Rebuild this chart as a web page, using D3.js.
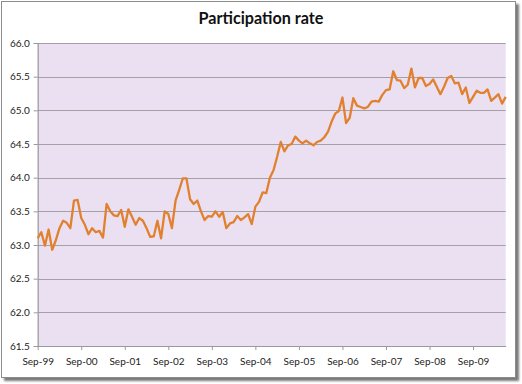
<!DOCTYPE html>
<html><head><meta charset="utf-8">
<script src="https://cdn.jsdelivr.net/npm/d3@7"></script>
<style>body{margin:0;background:#fff}svg{display:block}</style>
</head><body>
<svg id="c" width="522" height="384"></svg>
<script>
const title = "Participation rate";
const startMonth = new Date(1999, 8, 1); // Sep-99
const values = [
 63.10,63.19,62.99,63.23,62.93,63.07,63.25,63.36,63.33,63.25,63.66,63.67,
 63.40,63.30,63.16,63.25,63.19,63.21,63.11,63.61,63.50,63.44,63.43,63.52,
 63.27,63.53,63.42,63.30,63.40,63.36,63.25,63.12,63.13,63.36,63.10,63.50,
 63.46,63.25,63.66,63.82,63.99,63.99,63.68,63.61,63.66,63.50,63.37,63.43,
 63.42,63.50,63.42,63.49,63.25,63.32,63.34,63.43,63.37,63.41,63.46,63.31,
 63.57,63.64,63.78,63.77,64.00,64.11,64.31,64.53,64.39,64.48,64.50,64.61,
 64.55,64.51,64.55,64.51,64.48,64.53,64.55,64.60,64.68,64.83,64.95,64.99,
 65.19,64.81,64.89,65.18,65.07,65.05,65.03,65.05,65.13,65.14,65.13,65.23,
 65.30,65.31,65.58,65.45,65.44,65.33,65.38,65.62,65.34,65.48,65.48,65.36,
 65.39,65.46,65.35,65.24,65.35,65.48,65.51,65.40,65.41,65.24,65.34,65.11,
 65.20,65.29,65.26,65.26,65.31,65.14,65.19,65.24,65.10,65.20
];
const fmt = d3.timeFormat("%b-%y");
const categories = values.map((v, i) => fmt(d3.timeMonth.offset(startMonth, i)));
const xTickLabels = ["Sep-99","Sep-00","Sep-01","Sep-02","Sep-03","Sep-04","Sep-05","Sep-06","Sep-07","Sep-08","Sep-09"];
const yTicks = [61.5,62.0,62.5,63.0,63.5,64.0,64.5,65.0,65.5,66.0];

const W = 522, H = 384;
const plot = {left: 37.7, right: 505.7, top: 43, bottom: 346};
const svg = d3.select("#c");

// frame with shadow
const defs = svg.append("defs");
const blur = defs.append("filter").attr("id","sh").attr("x","-5%").attr("y","-5%").attr("width","115%").attr("height","115%");
blur.append("feGaussianBlur").attr("stdDeviation", 1.2);
svg.append("rect").attr("x", 4).attr("y", 4).attr("width", 515).attr("height", 377)
  .attr("fill", "#7a7a7a").attr("filter", "url(#sh)");
svg.append("rect").attr("x", 1.5).attr("y", 1.5).attr("width", 514).attr("height", 376)
  .attr("fill", "#fff").attr("stroke", "#8c8c8c").attr("stroke-width", 1);

const x = d3.scalePoint().domain(categories).range([plot.left, plot.right]);
const y = d3.scaleLinear().domain([61.5, 66.0]).range([plot.bottom, plot.top]);

// plot background
svg.append("rect").attr("x", plot.left).attr("y", plot.top)
  .attr("width", plot.right - plot.left).attr("height", plot.bottom - plot.top)
  .attr("fill", "#ebe0f1");

// gridlines
svg.append("g").selectAll("line").data(yTicks.filter(t => t > 61.5)).join("line")
  .attr("x1", plot.left).attr("x2", plot.right)
  .attr("y1", d => Math.round(y(d)) + 0.5).attr("y2", d => Math.round(y(d)) + 0.5)
  .attr("stroke", "#a3a0a6").attr("stroke-width", 1.2);

// y axis
const yAxis = d3.axisLeft(y).tickValues(yTicks).tickFormat(d3.format(".1f")).tickSize(4).tickPadding(4);
const gy = svg.append("g").attr("transform", `translate(${plot.left},0)`).call(yAxis);
gy.select(".domain").attr("stroke", "#9a9a9a").attr("stroke-width", 1.2);
gy.selectAll(".tick line").attr("stroke", "#9a9a9a");
gy.selectAll("text").attr("font-family", "Lato, 'Open Sans', sans-serif").attr("font-size", 10).attr("fill", "#222");

// x axis
const xAxis = d3.axisBottom(x).tickValues(xTickLabels).tickSize(4).tickPadding(8).tickSizeOuter(0);
const gx = svg.append("g").attr("transform", `translate(0,${plot.bottom})`).call(xAxis);
gx.select(".domain").attr("stroke", "#9a9a9a").attr("stroke-width", 1.2);
gx.selectAll(".tick line").attr("stroke", "#9a9a9a");
gx.selectAll("text").attr("font-family", "Lato, 'Open Sans', sans-serif").attr("font-size", 10).attr("fill", "#222");

// line
const line = d3.line().x((d, i) => x(categories[i])).y(d => y(d));
svg.append("path").datum(values).attr("d", line)
  .attr("fill", "none").attr("stroke", "#e1802f").attr("stroke-width", 2.3)
  .attr("stroke-linejoin", "round");

// title
const t = svg.append("text").attr("x", 261).attr("y", 24).attr("text-anchor", "middle")
  .attr("font-family", "Lato, 'Open Sans', sans-serif").attr("font-weight", "bold")
  .attr("font-size", 15).attr("fill", "#111").text(title);
const tw = t.node().getComputedTextLength();
if (tw > 0) t.attr("font-size", 15 * 125 / tw);
</script>
</body></html>
